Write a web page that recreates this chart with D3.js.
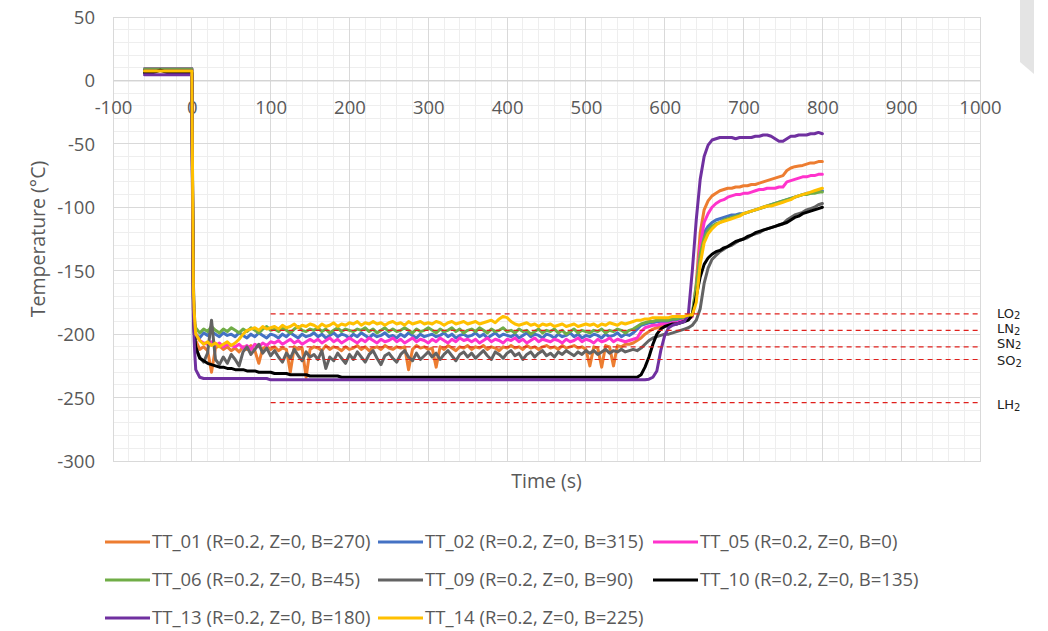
<!DOCTYPE html>
<html><head><meta charset="utf-8">
<script src="https://cdn.jsdelivr.net/npm/d3@7"></script>
<style>body{margin:0;background:#fff;} svg{display:block;}</style>
</head><body><svg id="c" width="1048" height="631"></svg>
<script>
// ---------------- DATA ----------------
const seriesNames = [
  "TT_01 (R=0.2, Z=0, B=270)", "TT_02 (R=0.2, Z=0, B=315)", "TT_05 (R=0.2, Z=0, B=0)",
  "TT_06 (R=0.2, Z=0, B=45)", "TT_09 (R=0.2, Z=0, B=90)", "TT_10 (R=0.2, Z=0, B=135)",
  "TT_13 (R=0.2, Z=0, B=180)", "TT_14 (R=0.2, Z=0, B=225)"
];
const seriesColors = ["#ED7D31", "#4472C4", "#FF33CC", "#70AD47", "#636363", "#000000", "#7030A0", "#FFC000"];

const time = [-60,-50,-40,-30,-20,-10,-1,0,1,2,3,4,
  5,10,15,20,25,30,35,40,45,50,
  55,60,65,70,75,80,85,90,95,100,
  105,110,115,120,125,130,135,140,145,150,
  155,160,165,170,175,180,185,190,195,200,
  205,210,215,220,225,230,235,240,245,250,
  255,260,265,270,275,280,285,290,295,300,
  305,310,315,320,325,330,335,340,345,350,
  355,360,365,370,375,380,385,390,395,400,
  405,410,415,420,425,430,435,440,445,450,
  455,460,465,470,475,480,485,490,495,500,
  505,510,515,520,525,530,535,540,545,550,
  555,560,565,570,575,580,585,590,595,600,
  605,610,615,620,625,630,635,640,645,650,
  655,660,665,670,675,680,685,690,695,700,
  705,710,715,720,725,730,735,740,745,750,
  755,760,765,770,775,780,785,790,795,800];

const tt01 = [9,9,9,9,9,9,9,9,-90,-170,-195,-200,
  -205,-212,-210,-213,-230,-211,-209,-212,-210,-213,
  -211,-214,-210,-212,-209,-213,-223,-211,-210,-212,
  -210,-213,-211,-212,-230,-210,-212,-211,-234,-212,
  -210,-211,-213,-209,-212,-210,-211,-213,-210,-212,
  -211,-209,-212,-210,-213,-211,-210,-212,-209,-211,
  -212,-210,-211,-210,-228,-212,-209,-211,-210,-212,
  -211,-226,-210,-212,-209,-211,-213,-210,-211,-209,
  -212,-210,-211,-209,-212,-210,-211,-213,-210,-211,
  -209,-211,-210,-212,-209,-211,-210,-212,-210,-209,
  -211,-210,-212,-209,-211,-210,-209,-211,-210,-212,
  -225,-210,-211,-226,-209,-210,-225,-209,-210,-208,
  -208,-207,-205,-203,-200,-198,-196,-195,-194,-193,
  -193,-192,-191,-190,-189,-188,-186,-160,-120,-102,
  -95,-91,-89,-87,-86,-85,-85,-84,-84,-83,
  -83,-82,-82,-81,-80,-79,-78,-77,-76,-75,
  -71,-69,-68,-67.5,-67,-66,-65,-65,-64,-64];

const tt02 = [9.5,9.5,9.5,9.5,9.5,9.5,9.5,9.5,-90,-172,-192,-198,
  -200,-203,-199,-201,-198,-200,-202,-199,-201,-200,
  -202,-199,-201,-203,-200,-202,-199,-201,-203,-200,
  -201,-203,-200,-202,-199,-201,-203,-200,-202,-201,
  -199,-202,-200,-203,-201,-199,-202,-200,-201,-203,
  -200,-202,-199,-201,-203,-200,-202,-201,-199,-202,
  -201,-203,-200,-202,-199,-201,-203,-200,-202,-201,
  -200,-202,-201,-199,-202,-200,-203,-201,-200,-202,
  -201,-199,-202,-200,-203,-201,-199,-202,-200,-201,
  -202,-200,-203,-201,-199,-202,-200,-201,-203,-200,
  -201,-203,-200,-202,-201,-199,-202,-200,-203,-201,
  -202,-200,-201,-203,-200,-202,-201,-199,-202,-200,
  -201,-199,-196,-193,-192,-191,-191,-190,-190,-190,
  -190,-189,-189,-188,-188,-187,-185,-165,-135,-120,
  -115,-112,-110,-109,-108,-107,-106,-106,-105,-105,
  -104,-103,-102,-101,-100,-99,-98,-97,-96,-95,
  -94,-93,-92,-91,-90,-89,-89,-88,-88,-87];

const tt05 = [9,9,9,9,9,9,9,9,-90,-170,-190,-196,
  -200,-205,-207,-208,-206,-209,-207,-210,-208,-209,
  -210,-208,-211,-209,-212,-208,-210,-207,-209,-206,
  -207,-205,-208,-206,-204,-207,-205,-208,-206,-204,
  -206,-204,-207,-205,-203,-206,-204,-207,-205,-203,
  -205,-207,-204,-206,-203,-205,-207,-204,-206,-205,
  -203,-206,-204,-207,-205,-203,-206,-204,-205,-207,
  -204,-206,-203,-205,-207,-204,-206,-203,-205,-204,
  -206,-204,-207,-205,-203,-206,-204,-205,-207,-204,
  -205,-203,-206,-204,-207,-205,-203,-206,-204,-205,
  -206,-204,-205,-207,-204,-206,-205,-203,-206,-204,
  -205,-207,-204,-206,-205,-203,-206,-204,-205,-206,
  -205,-204,-203,-198,-195,-194,-193,-193,-192,-192,
  -192,-191,-191,-190,-189,-188,-186,-165,-130,-112,
  -105,-100,-97,-95,-94,-92,-91,-90,-90,-89,
  -89,-88,-87,-86,-86,-85,-85,-85,-84,-84,
  -80,-79,-78,-77,-76,-76,-75,-75,-74,-74];

const tt06 = [9,9,9,9,9,9,9,9,-90,-170,-188,-192,
  -195,-199,-196,-198,-194,-197,-199,-196,-198,-195,
  -197,-199,-196,-198,-195,-197,-199,-196,-194,-197,
  -196,-198,-195,-197,-199,-196,-194,-197,-198,-196,
  -197,-195,-198,-196,-199,-197,-195,-198,-196,-197,
  -198,-196,-197,-195,-198,-196,-199,-197,-195,-198,
  -196,-198,-197,-195,-197,-199,-196,-198,-197,-195,
  -197,-199,-196,-198,-197,-195,-198,-196,-199,-197,
  -196,-198,-195,-197,-199,-196,-198,-197,-195,-198,
  -197,-199,-196,-198,-197,-200,-198,-196,-199,-197,
  -198,-196,-199,-197,-200,-198,-196,-199,-197,-198,
  -199,-197,-198,-196,-199,-197,-198,-196,-197,-199,
  -197,-196,-194,-192,-191,-190,-190,-189,-189,-189,
  -189,-188,-188,-187,-187,-186,-184,-162,-137,-124,
  -118,-115,-113,-112,-110,-109,-108,-107,-106,-105,
  -104,-103,-102,-101,-100,-99,-98,-97,-96,-95,
  -94,-93,-92,-91,-90,-90,-89,-89,-88,-88];

const tt09 = [8,8,8,8,8,8,8,8,-80,-160,-180,-195,
  -212,-218,-222,-215,-189,-220,-224,-218,-223,-216,
  -220,-225,-214,-210,-216,-212,-208,-215,-211,-217,
  -213,-218,-222,-215,-219,-212,-217,-221,-214,-218,
  -216,-220,-213,-227,-218,-221,-215,-219,-223,-216,
  -220,-214,-218,-222,-216,-213,-219,-224,-217,-215,
  -219,-222,-216,-213,-218,-221,-215,-220,-217,-214,
  -218,-215,-220,-216,-213,-217,-221,-216,-214,-218,
  -215,-219,-216,-213,-217,-220,-214,-216,-219,-215,
  -213,-217,-215,-220,-216,-214,-218,-215,-213,-217,
  -215,-218,-214,-216,-213,-215,-217,-214,-216,-213,
  -215,-213,-216,-214,-212,-215,-213,-214,-212,-214,
  -213,-212,-213,-211,-208,-205,-203,-202,-201,-200,
  -200,-199,-198,-197,-196,-195,-193,-189,-180,-160,
  -148,-141,-138,-135,-133,-131,-130,-128,-126,-125,
  -124,-122,-121,-120,-118,-117,-116,-115,-114,-113,
  -110,-108,-106,-105,-104,-102,-101,-100,-98,-97];

const tt10 = [6,6,8,6,6,6,6,6,-100,-180,-198,-205,
  -210,-219,-221,-223,-224,-225,-226,-226,-227,-227,
  -228,-228,-228,-229,-229,-229,-230,-230,-230,-230,
  -231,-231,-231,-231,-232,-232,-232,-232,-232,-233,
  -233,-233,-233,-233,-233,-233,-233,-234,-234,-234,
  -234,-234,-234,-234,-234,-234,-234,-234,-234,-234,
  -234,-234,-234,-234,-234,-234,-234,-234,-234,-234,
  -234,-234,-234,-234,-234,-234,-234,-234,-234,-234,
  -234,-234,-234,-234,-234,-234,-234,-234,-234,-234,
  -234,-234,-234,-234,-234,-234,-234,-234,-234,-234,
  -234,-234,-234,-234,-234,-234,-234,-234,-234,-234,
  -234,-234,-234,-234,-234,-234,-234,-234,-234,-234,
  -234,-234,-234,-232,-226,-218,-208,-200,-196,-194,
  -193,-192,-192,-191,-190,-189,-185,-170,-155,-145,
  -140,-137,-135,-134,-132,-131,-129,-127,-126,-125,
  -123,-122,-120,-119,-118,-117,-116,-115,-114,-113,
  -112,-110,-108,-107,-105,-104,-103,-102,-101,-100];

const tt13 = [4.5,4.5,4.5,4.5,4.5,4.5,4.5,4.5,-110,-185,-205,-218,
  -228,-234,-235,-235,-235,-235,-235,-235,-235,-235,
  -235,-235,-235,-235,-235,-235,-235,-235,-235,-236,
  -236,-236,-236,-236,-236,-236,-236,-236,-236,-236,
  -236,-236,-236,-236,-236,-236,-236,-236,-236,-236,
  -236,-236,-236,-236,-236,-236,-236,-236,-236,-236,
  -236,-236,-236,-236,-236,-236,-236,-236,-236,-236,
  -236,-236,-236,-236,-236,-236,-236,-236,-236,-236,
  -236,-236,-236,-236,-236,-236,-236,-236,-236,-236,
  -236,-236,-236,-236,-236,-236,-236,-236,-236,-236,
  -236,-236,-236,-236,-236,-236,-236,-236,-236,-236,
  -236,-236,-236,-236,-236,-236,-236,-236,-236,-236,
  -236,-236,-236,-236,-236,-235.5,-234,-229,-213,-201,
  -195,-193,-192,-191,-190,-184,-150,-110,-78,-60,
  -51,-47,-46,-45,-45,-45,-45,-46,-45,-45,
  -45,-45,-44,-44,-43,-43,-44,-46,-48,-48,
  -46,-44,-44,-43,-43,-43,-42,-42,-41,-42];

const tt14 = [7.5,7.5,7.5,7.5,7.5,7.5,7.5,7.5,-80,-165,-182,-192,
  -200,-205,-208,-206,-209,-207,-210,-208,-206,-209,
  -207,-204,-200,-197,-196,-195,-197,-194,-196,-195,
  -194,-196,-193,-195,-194,-192,-195,-193,-194,-192,
  -193,-195,-192,-194,-193,-191,-194,-192,-193,-191,
  -192,-190,-193,-191,-192,-190,-192,-191,-193,-191,
  -190,-192,-191,-193,-190,-192,-191,-190,-192,-191,
  -192,-190,-191,-193,-191,-190,-192,-191,-190,-192,
  -191,-190,-192,-191,-190,-189,-191,-188,-186,-187,
  -190,-192,-193,-192,-191,-193,-192,-194,-192,-193,
  -192,-194,-193,-192,-194,-193,-192,-194,-193,-192,
  -193,-192,-194,-192,-193,-191,-192,-193,-191,-192,
  -191,-190,-189,-189,-188,-188,-187,-187,-187,-187,
  -187,-186,-186,-186,-186,-185,-185,-175,-145,-128,
  -121,-117,-114,-112,-111,-110,-109,-108,-107,-105,
  -104,-103,-102,-101,-100,-99,-99,-98,-97,-96,
  -95,-94,-92,-91,-90,-89,-88,-87,-86,-85];

const seriesValues = [tt01, tt02, tt05, tt06, tt09, tt10, tt13, tt14];

const xTicks = [-100, 0, 100, 200, 300, 400, 500, 600, 700, 800, 900, 1000];
const yTicks = [-300, -250, -200, -150, -100, -50, 0, 50];

const refMain = ["LO", "LN", "SN", "SO", "LH"];
const refSub = ["2", "2", "2", "2", "2"];
const refValues = [-184, -197, -210, -220, -254];

// ---------------- DRAW ----------------
const svg = d3.select("#c");
const x = d3.scaleLinear().domain([-100, 1000]).range([113, 980]);
const y = d3.scaleLinear().domain([-300, 50]).range([461, 17]);
const FONT = "'Open Sans', 'Liberation Sans', sans-serif";
const fmt = d => String(d);

svg.append("rect").attr("width", 1048).attr("height", 631).attr("fill", "#fff");

// page artifact at top right
svg.append("path").attr("d", "M1020,0 L1034,0 L1034,74 L1020,62 Z").attr("fill", "#e4e4e4");

const grid = svg.append("g").attr("shape-rendering", "crispEdges");
const minorX = d3.range(-100, 1001, 20);
const minorY = d3.range(-300, 51, 10);
grid.selectAll("line.mx").data(minorX).join("line").attr("class", "mx")
  .attr("x1", d => x(d)).attr("x2", d => x(d)).attr("y1", y(50)).attr("y2", y(-300))
  .attr("stroke", "#eeeeee");
grid.selectAll("line.my").data(minorY).join("line").attr("class", "my")
  .attr("y1", d => y(d)).attr("y2", d => y(d)).attr("x1", x(-100)).attr("x2", x(1000))
  .attr("stroke", "#eeeeee");
grid.selectAll("line.Mx").data(xTicks).join("line").attr("class", "Mx")
  .attr("x1", d => x(d)).attr("x2", d => x(d)).attr("y1", y(50)).attr("y2", y(-300))
  .attr("stroke", "#d9d9d9");
grid.selectAll("line.My").data(yTicks).join("line").attr("class", "My")
  .attr("y1", d => y(d)).attr("y2", d => y(d)).attr("x1", x(-100)).attr("x2", x(1000))
  .attr("stroke", "#d9d9d9");
grid.append("rect").attr("x", x(-100)).attr("y", y(50))
  .attr("width", x(1000) - x(-100)).attr("height", y(-300) - y(50))
  .attr("fill", "none").attr("stroke", "#d9d9d9");

// axes
const xAxis = svg.append("g").attr("transform", `translate(0,${y(0)})`)
  .call(d3.axisBottom(x).tickValues(xTicks).tickSize(0).tickFormat(fmt));
xAxis.select(".domain").attr("stroke", "#d0d0d0");
xAxis.selectAll("text").attr("y", 27).attr("dy", "0.35em")
  .attr("fill", "#595959").attr("font-size", 18.5).attr("font-family", FONT);

const yAxis = svg.append("g").attr("transform", `translate(${x(-100)},0)`)
  .call(d3.axisLeft(y).tickValues(yTicks).tickSize(0).tickPadding(18).tickFormat(fmt));
yAxis.select(".domain").remove();
yAxis.selectAll("text").attr("dy", "0.35em")
  .attr("fill", "#595959").attr("font-size", 18.5).attr("font-family", FONT);

// series
const line = d3.line().x(d => x(d[0])).y(d => y(d[1]));
seriesValues.forEach((vals, i) => {
  svg.append("path")
    .datum(time.map((t, k) => [t, vals[k]]))
    .attr("d", line).attr("fill", "none")
    .attr("stroke", seriesColors[i]).attr("stroke-width", 3)
    .attr("stroke-linejoin", "round").attr("stroke-linecap", "round");
});

// reference lines
const refG = svg.append("g");
const labelShift = [-1, -2, -4, 1, 2];
refValues.forEach((v, i) => {
  refG.append("line").attr("x1", x(100)).attr("x2", x(1000))
    .attr("y1", y(v)).attr("y2", y(v))
    .attr("stroke", "#e0201c").attr("stroke-width", 1.2).attr("stroke-dasharray", "5,4");
  const t = refG.append("text").attr("x", 997).attr("y", y(v) + labelShift[i])
    .attr("dy", "0.36em").attr("font-family", "'DejaVu Sans', sans-serif")
    .attr("font-size", 13).attr("fill", "#222");
  t.append("tspan").text(refMain[i]);
  t.append("tspan").attr("font-size", 10).attr("dy", 1.5).text(refSub[i]);
});

// titles
svg.append("text").attr("x", (x(-100) + x(1000)) / 2).attr("y", 481).attr("dy", "0.35em")
  .attr("text-anchor", "middle").attr("font-family", FONT).attr("font-size", 19.5)
  .attr("fill", "#595959").text("Time (s)");
svg.append("text").attr("transform", `translate(38,${(y(50) + y(-300)) / 2}) rotate(-90)`)
  .attr("dy", "0.35em").attr("text-anchor", "middle").attr("font-family", FONT)
  .attr("font-size", 19.5).attr("fill", "#595959").text("Temperature (°C)");

// legend
const legX = [105, 378, 653];
const legY = [542, 580, 618];
const leg = svg.append("g");
seriesNames.forEach((name, i) => {
  const cx = legX[i % 3], cy = legY[Math.floor(i / 3)];
  leg.append("line").attr("x1", cx).attr("x2", cx + 45).attr("y1", cy).attr("y2", cy)
    .attr("stroke", seriesColors[i]).attr("stroke-width", 3);
  leg.append("text").attr("x", cx + 47).attr("y", cy).attr("dy", "0.35em")
    .attr("font-family", FONT).attr("font-size", 18.5).attr("fill", "#595959").text(name);
});
</script>
</body></html>
